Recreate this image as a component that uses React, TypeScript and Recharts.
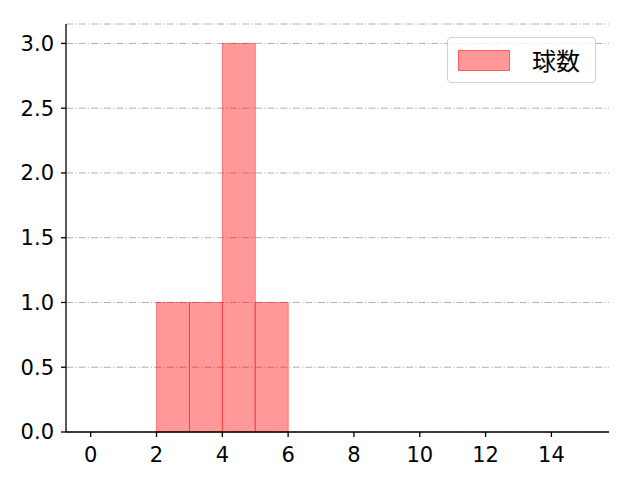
import { Bar, BarChart, CartesianGrid, Legend, XAxis, YAxis } from "recharts";

// histogram bins (centre of each 1-wide bin) and counts
const binCenters = [2.5, 3.5, 4.5, 5.5];
const counts = [1, 1, 3, 1];
const xTicks = [0, 2, 4, 6, 8, 10, 12, 14];
const yTicks = [0, 0.5, 1.0, 1.5, 2.0, 2.5, 3.0];
const seriesName = "球数";

const data = binCenters.map((x, i) => ({ x, count: counts[i] }));

const FONT = '"DejaVu Sans", "Noto Sans CJK JP", sans-serif';
const CJK = '"Noto Sans CJK JP", sans-serif';

const spine = { stroke: "#000", strokeWidth: 1.3 };
const tickStyle = { fill: "#000", fontSize: 21, fontFamily: FONT };

const LegendBox = () => (
  <div
    style={{
      width: 149,
      height: 46,
      border: "1px solid #d0d0d0",
      borderRadius: 4,
      background: "rgba(255,255,255,0.8)",
      display: "flex",
      alignItems: "center",
      boxSizing: "border-box",
    }}
  >
    <div
      style={{
        marginLeft: 10,
        width: 52,
        height: 21,
        background: "rgba(255,0,0,0.4)",
        border: "1px solid rgba(255,0,0,0.4)",
        boxSizing: "border-box",
      }}
    />
    <span style={{ marginLeft: 22, fontSize: 24, color: "#000", fontFamily: CJK, lineHeight: 1 }}>
      {seriesName}
    </span>
  </div>
);

export default function App() {
  return (
    <div style={{ position: "absolute", left: 0, top: 0, width: 640, height: 480, background: "#fff" }}>
      <BarChart
        width={640}
        height={480}
        data={data}
        margin={{ top: 24, right: 31, bottom: 8, left: 0 }}
        barCategoryGap={0}
      >
        <CartesianGrid vertical={false} stroke="#b0b0b0" strokeDasharray="7 2.2 1.2 2.2" />
        <XAxis
          dataKey="x"
          type="number"
          domain={[-0.75, 15.75]}
          ticks={xTicks}
          interval={0}
          height={40}
          tickSize={5}
          tickMargin={10}
          axisLine={spine}
          tickLine={spine}
          tick={tickStyle}
        />
        <XAxis
          xAxisId="top"
          orientation="top"
          type="number"
          domain={[-0.75, 15.75]}
          height={0}
          tick={false}
          tickLine={false}
          axisLine={spine}
        />
        <YAxis
          type="number"
          domain={[0, 3.15]}
          ticks={yTicks}
          interval={0}
          width={66}
          tickSize={5}
          tickMargin={7}
          tickFormatter={(v: number) => v.toFixed(1)}
          axisLine={spine}
          tickLine={spine}
          tick={tickStyle}
        />
        <YAxis
          yAxisId="right"
          orientation="right"
          width={0}
          tick={false}
          tickLine={false}
          axisLine={spine}
        />
        <Legend
          layout="vertical"
          align="center"
          verticalAlign="middle"
          content={() => <LegendBox />}
          wrapperStyle={{ top: 37, left: 447, width: 149 }}
        />
        <Bar
          dataKey="count"
          name={seriesName}
          fill="#ff0000"
          fillOpacity={0.4}
          stroke="#ff0000"
          strokeOpacity={0.4}
          isAnimationActive={false}
        />
      </BarChart>
    </div>
  );
}
